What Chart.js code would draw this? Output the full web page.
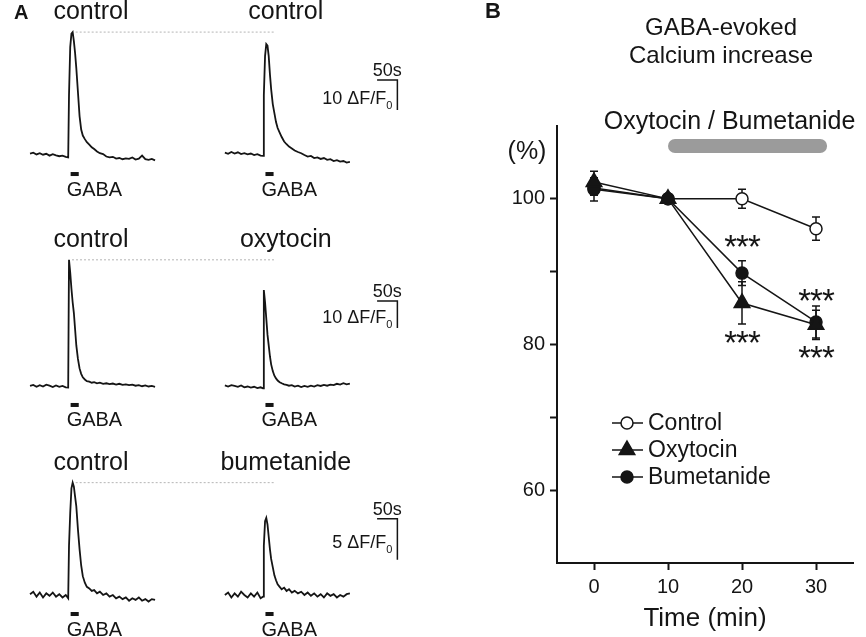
<!DOCTYPE html>
<html>
<head>
<meta charset="utf-8">
<script src="https://cdn.jsdelivr.net/npm/chart.js@4.4.1/dist/chart.umd.min.js"></script>
<style>
html, body { margin: 0; padding: 0; background: #fff; }
#wrap { position: relative; width: 866px; height: 637px; overflow: hidden; }
.box { position: absolute; }
</style>
</head>
<body>
<div id="wrap">
  <div class="box" style="left:0;top:0;width:440px;height:212px"><canvas id="row1"></canvas></div>
  <div class="box" style="left:0;top:212px;width:440px;height:226px"><canvas id="row2"></canvas></div>
  <div class="box" style="left:0;top:424px;width:440px;height:213px"><canvas id="row3"></canvas></div>
  <div class="box" style="left:470px;top:0;width:396px;height:637px"><canvas id="panelB"></canvas></div>
</div>
<script>
// ---- panel A: calcium traces (dF/F0), time in s from start of each trace
var traceTimes = [0, 8, 16, 24, 32, 40, 48, 56, 64, 72, 80, 88, 94, 96, 99, 102, 105, 108, 111, 114, 118, 122, 126, 130,
    135, 140, 146, 152, 158, 165, 172, 180, 188, 196, 204, 212, 220, 228, 236, 244, 252, 260, 268, 276, 284, 292, 300, 308];

var controlA1 = [0.5, 0.8, 0.2, 0.6, 0.1, 0.4, -0.2, 0.3, -0.1, -0.4, -0.2, -0.6, -0.8, 20, 36, 40.5, 41, 38, 34, 29, 21, 13, 8.5, 6.5,
    5.3, 4.3, 3.5, 2.6, 2.0, 1.2, 0.6, 0.3, -0.5, -0.8, -0.6, -1.2, -1.0, -1.4, -1.1, -1.3, -0.8, -1.5, -1.2, -0.2, -1.4, -1.6, -1.3, -1.8];
var controlA2 = [0.8, 0.4, 1.0, 0.5, 0.9, 0.3, 0.6, 0.2, 0.5, 0.0, 0.3, -0.2, -0.3, 20, 33, 37, 36.5, 33, 27, 22, 17, 14, 11, 9,
    7.5, 6, 4.5, 3.6, 2.8, 2.2, 1.5, 1.0, 0.6, 0.0, -0.5, -0.3, -1.0, -0.8, -1.3, -1.0, -1.6, -1.4, -2.0, -1.7, -2.2, -2.0, -2.5, -2.3];
var controlB = [0, 0.4, -0.3, 0.3, -0.2, 0.5, 0.1, -0.4, 0.2, -0.3, 0.0, -0.5, -0.6, 46.7, 42, 36, 31, 27, 21, 15, 10, 6.5, 4.5, 3.2,
    2.4, 1.8, 1.6, 1.2, 1.4, 1.0, 1.2, 0.8, 1.0, 0.7, 0.9, 0.5, 0.8, 0.4, 0.6, 0.3, 0.5, 0.1, 0.3, -0.1, 0.2, -0.2, 0.0, -0.3];
var oxytocinB = [0.2, -0.2, 0.3, 0.0, -0.3, 0.2, -0.5, -0.2, -0.6, -0.3, -0.8, -0.5, -0.9, 35.5, 31, 25, 19, 15, 11, 8, 5.5, 3.8, 2.8, 2.0,
    1.4, 1.0, 0.6, 0.4, 0.1, 0.3, -0.2, 0.1, -0.4, 0.0, -0.3, 0.1, -0.2, 0.3, 0.0, 0.4, 0.1, 0.5, 0.3, 0.8, 0.5, 1.0, 0.6, 0.9];
var controlC = [0.1, 0.4, -0.2, 0.3, -0.3, 0.2, -0.1, 0.3, -0.2, 0.1, -0.3, 0.0, -0.4, 6, 10, 13, 13.7, 13.2, 12.0, 10.8, 8.0, 5.6, 3.6, 2.3,
    1.5, 1.0, 0.8, 0.5, 0.6, 0.2, 0.4, 0.0, 0.2, -0.2, 0.0, -0.4, -0.2, -0.5, -0.3, -0.7, -0.4, -0.6, -0.3, -0.7, -0.5, -0.8, -0.5, -0.6];
var bumetanideC = [0.0, 0.3, -0.3, 0.2, -0.2, 0.4, 0.0, -0.3, 0.2, -0.2, 0.3, -0.4, -0.2, 6, 9.0, 9.4, 8.6, 7.1, 5.6, 4.4, 3.4, 2.4, 1.8, 1.3,
    1.0, 0.7, 0.9, 0.5, 0.7, 0.3, 0.5, 0.2, 0.4, 0.0, 0.3, -0.1, 0.2, -0.2, 0.1, -0.3, 0.2, -0.1, 0.1, -0.3, 0.0, -0.2, 0.1, 0.2];

var traceLabels = [['control', 'control'], ['control', 'oxytocin'], ['control', 'bumetanide']];
var secondTraceStart = 480;   // s, where the second trace of a row sits on the shared time axis
var gabaWindow = [100, 120];  // s, GABA puff
var scaleBarSec = 50;
var scaleBarAmp = [10, 10, 5];

// ---- panel B: GABA-evoked calcium increase (% of t=10 min)
var minutes = [0, 10, 20, 30];
var controlPct = [101.5, 100, 100, 95.9];
var controlSem = [1.0, 0, 1.3, 1.6];
var oxytocinPct = [102.3, 100, 85.7, 82.7];
var oxytocinSem = [1.5, 0, 2.9, 2.0];
var bumetanidePct = [101.3, 100, 89.8, 83.1];
var bumetanideSem = [1.6, 0, 1.7, 2.2];
var yTicks = [60, 70, 80, 90, 100];
var yLabelled = [60, 80, 100];
var xTicks = [0, 10, 20, 30];
var drugWindow = [10, 31.5];

var FONT = '"Liberation Sans", Arial, Helvetica, sans-serif';
var INK = '#151515';
Chart.defaults.font.family = FONT;
Chart.defaults.color = INK;

function traceDecor(row) {
    return {
        id: 'traceDecor',
        afterDraw: function (chart) {
            var ctx = chart.ctx, x = chart.scales.x, y = chart.scales.y;
            var peak = Math.max.apply(null, row.first);
            var peakT = traceTimes[row.first.indexOf(peak)];
            var yPeak = y.getPixelForValue(peak);
            var y0 = y.getPixelForValue(0);
            ctx.save();
            // dotted line at the control peak
            ctx.strokeStyle = '#b5b5b5';
            ctx.lineWidth = 1;
            ctx.setLineDash([2, 2]);
            ctx.beginPath();
            ctx.moveTo(x.getPixelForValue(peakT) + 3, yPeak);
            ctx.lineTo(x.getPixelForValue(secondTraceStart + 125), yPeak);
            ctx.stroke();
            ctx.setLineDash([]);

            ctx.fillStyle = INK;
            ctx.textBaseline = 'middle';
            [0, secondTraceStart].forEach(function (off, k) {
                ctx.font = '25px ' + FONT;
                ctx.textAlign = 'center';
                ctx.fillText(row.labels[k], x.getPixelForValue(off + 150), yPeak - 20);
                var xa = x.getPixelForValue(off + gabaWindow[0]);
                var xb = x.getPixelForValue(off + gabaWindow[1]);
                ctx.fillRect(xa, y0 + 17, xb - xa, 4);
                ctx.font = '20px ' + FONT;
                ctx.textAlign = 'left';
                ctx.fillText('GABA', xa - 4, y0 + 35);
            });

            // scale bar
            var xr = x.getPixelForValue(905);
            var xl = x.getPixelForValue(905 - scaleBarSec);
            var yt = y.getPixelForValue(row.barTop);
            var yb = y.getPixelForValue(row.barTop - row.amp);
            ctx.strokeStyle = INK;
            ctx.lineWidth = 1.5;
            ctx.beginPath();
            ctx.moveTo(xl, yt);
            ctx.lineTo(xr, yt);
            ctx.lineTo(xr, yb);
            ctx.stroke();
            ctx.font = '18px ' + FONT;
            ctx.textAlign = 'center';
            ctx.fillText(scaleBarSec + 's', (xl + xr) / 2, yt - 9);
            var main = row.amp + ' \u0394F/F';
            ctx.font = '11px ' + FONT;
            var subW = ctx.measureText('0').width;
            ctx.font = '18px ' + FONT;
            var mainW = ctx.measureText(main).width;
            var left = xr - 5 - subW - mainW;
            var mid = (yt + yb) / 2 + 4;
            ctx.textAlign = 'left';
            ctx.fillText(main, left, mid);
            ctx.font = '11px ' + FONT;
            ctx.fillText('0', left + mainW, mid + 7);

            if (row.panel) {
                ctx.font = 'bold 20px ' + FONT;
                ctx.fillText(row.panel, 14, 13);
            }
            ctx.restore();
        }
    };
}

function traceChart(id, row) {
    return new Chart(document.getElementById(id), {
        type: 'line',
        data: {
            datasets: [{
                data: traceTimes.map(function (t, i) { return { x: t, y: row.first[i] }; })
            }, {
                data: traceTimes.map(function (t, i) { return { x: t + secondTraceStart, y: row.second[i] }; })
            }]
        },
        options: {
            responsive: true,
            maintainAspectRatio: false,
            animation: false,
            layout: { padding: 0 },
            plugins: { legend: { display: false }, tooltip: { enabled: false } },
            elements: {
                point: { radius: 0 },
                line: { borderColor: INK, borderWidth: 1.8, tension: 0 }
            },
            scales: {
                x: { type: 'linear', display: false, min: -74, max: 1010 },
                y: { display: false, min: row.yMin, max: row.yMax }
            }
        },
        plugins: [traceDecor(row)]
    });
}

traceChart('row1', { first: controlA1, second: controlA2, labels: traceLabels[0], amp: scaleBarAmp[0],
    yMin: -19, yMax: 51.7, barTop: 25, panel: 'A' });
traceChart('row2', { first: controlB, second: oxytocinB, labels: traceLabels[1], amp: scaleBarAmp[1],
    yMin: -19.26, yMax: 64.4, barTop: 31.5 });
traceChart('row3', { first: controlC, second: bumetanideC, labels: traceLabels[2], amp: scaleBarAmp[2],
    yMin: -5.12, yMax: 20.85, barTop: 9.3 });

// ---- panel B
var sems = [controlSem, oxytocinSem, bumetanideSem];
var stars = [
    { series: 2, idx: 2, side: 'above' },
    { series: 1, idx: 2, side: 'below' },
    { series: 2, idx: 3, side: 'above' },
    { series: 1, idx: 3, side: 'below' }
];

var errorBars = {
    id: 'errorBars',
    beforeDatasetsDraw: function (chart) {
        var ctx = chart.ctx, y = chart.scales.y;
        ctx.save();
        ctx.strokeStyle = INK;
        ctx.lineWidth = 1.5;
        chart.data.datasets.forEach(function (ds, di) {
            chart.getDatasetMeta(di).data.forEach(function (pt, i) {
                var e = sems[di][i];
                if (!e) return;
                var v = ds.data[i].y;
                var top = y.getPixelForValue(v + e), bot = y.getPixelForValue(v - e);
                ctx.beginPath();
                ctx.moveTo(pt.x, top); ctx.lineTo(pt.x, bot);
                ctx.moveTo(pt.x - 4, top); ctx.lineTo(pt.x + 4, top);
                ctx.moveTo(pt.x - 4, bot); ctx.lineTo(pt.x + 4, bot);
                ctx.stroke();
            });
        });
        ctx.restore();
    }
};

var panelBDecor = {
    id: 'panelBDecor',
    afterDraw: function (chart) {
        var ctx = chart.ctx, x = chart.scales.x, y = chart.scales.y, area = chart.chartArea;
        ctx.save();
        ctx.fillStyle = INK;
        ctx.textBaseline = 'middle';
        ctx.textAlign = 'left';
        ctx.font = 'bold 22px ' + FONT;
        ctx.fillText('B', 15, 12);

        ctx.textAlign = 'center';
        ctx.font = '24px ' + FONT;
        ctx.fillText('GABA-evoked', 251, 28);
        ctx.fillText('Calcium increase', 251, 56);

        ctx.font = '25px ' + FONT;
        ctx.fillText('(%)', 57, 152);

        // drug application bar
        var xa = x.getPixelForValue(drugWindow[0]), xb = x.getPixelForValue(drugWindow[1]);
        var yBar = area.top + 20;
        ctx.strokeStyle = '#9b9b9b';
        ctx.lineWidth = 14;
        ctx.lineCap = 'round';
        ctx.beginPath();
        ctx.moveTo(xa + 7, yBar);
        ctx.lineTo(xb - 7, yBar);
        ctx.stroke();
        ctx.lineCap = 'butt';
        ctx.fillText('Oxytocin / Bumetanide', (xa + xb) / 2 - 18, area.top - 4);

        // significance stars
        ctx.font = '33px ' + FONT;
        if ('letterSpacing' in ctx) ctx.letterSpacing = '-1px';
        stars.forEach(function (s) {
            var v = chart.data.datasets[s.series].data[s.idx].y;
            var e = sems[s.series][s.idx];
            var px = x.getPixelForValue(minutes[s.idx]);
            var m = ctx.measureText('***');
            var cy = s.side === 'above' ? y.getPixelForValue(v + e) - 11 : y.getPixelForValue(v - e) + 13;
            ctx.textBaseline = 'alphabetic';
            ctx.fillText('***', px, cy + (m.actualBoundingBoxAscent - m.actualBoundingBoxDescent) / 2);
        });
        if ('letterSpacing' in ctx) ctx.letterSpacing = '0px';

        // legend: line through marker
        ctx.textBaseline = 'middle';
        ctx.textAlign = 'left';
        ctx.font = '23px ' + FONT;
        var lx = area.left + 55;
        chart.data.datasets.forEach(function (ds, i) {
            var ly = area.top + 297 + i * 27;
            ctx.strokeStyle = INK;
            ctx.lineWidth = 1.5;
            ctx.beginPath();
            ctx.moveTo(lx, ly); ctx.lineTo(lx + 31, ly);
            ctx.stroke();
            ctx.fillStyle = ds.pointBackgroundColor;
            Chart.helpers.drawPoint(ctx, {
                pointStyle: ds.pointStyle, radius: ds.pointRadius, rotation: 0, borderWidth: 1.5
            }, lx + 15, ly);
            ctx.fillStyle = INK;
            ctx.fillText(ds.label, lx + 36, ly + 1);
        });
        ctx.restore();
    }
};

function series(label, values, style, fill, radius, order) {
    return {
        label: label,
        data: minutes.map(function (m, i) { return { x: m, y: values[i] }; }),
        borderColor: INK,
        borderWidth: 1.5,
        pointStyle: style,
        pointRadius: radius,
        pointBackgroundColor: fill,
        pointBorderColor: INK,
        pointBorderWidth: 1.5,
        tension: 0,
        order: order
    };
}

new Chart(document.getElementById('panelB'), {
    type: 'line',
    data: {
        datasets: [
            series('Control', controlPct, 'circle', '#ffffff', 6, 2),
            series('Oxytocin', oxytocinPct, 'triangle', INK, 9, 1),
            series('Bumetanide', bumetanidePct, 'circle', INK, 6, 1)
        ]
    },
    options: {
        responsive: true,
        maintainAspectRatio: false,
        animation: false,
        layout: { padding: { top: 126, right: 13, left: 0, bottom: 0 } },
        plugins: { legend: { display: false }, tooltip: { enabled: false } },
        scales: {
            x: {
                type: 'linear', min: -5, max: 35,
                afterBuildTicks: function (s) { s.ticks = xTicks.map(function (v) { return { value: v }; }); },
                afterFit: function (s) { s.height = 74; },
                grid: { display: true, drawOnChartArea: false, drawTicks: true, tickLength: 7, tickWidth: 2, color: INK },
                border: { display: true, color: INK, width: 2 },
                ticks: { color: INK, font: { size: 20 }, padding: 5, maxRotation: 0 },
                title: { display: true, text: 'Time (min)', color: INK, font: { size: 26 }, padding: { top: 0, bottom: 3 } }
            },
            y: {
                min: 50, max: 110,
                afterBuildTicks: function (s) { s.ticks = yTicks.map(function (v) { return { value: v }; }); },
                afterFit: function (s) { s.width = 87; },
                grid: { display: true, drawOnChartArea: false, drawTicks: true, tickLength: 7, tickWidth: 2, color: INK },
                border: { display: true, color: INK, width: 2 },
                ticks: {
                    color: INK, font: { size: 20 }, padding: 5,
                    callback: function (v) { return yLabelled.indexOf(v) >= 0 ? v : ''; }
                }
            }
        }
    },
    plugins: [errorBars, panelBDecor]
});
</script>
</body>
</html>
